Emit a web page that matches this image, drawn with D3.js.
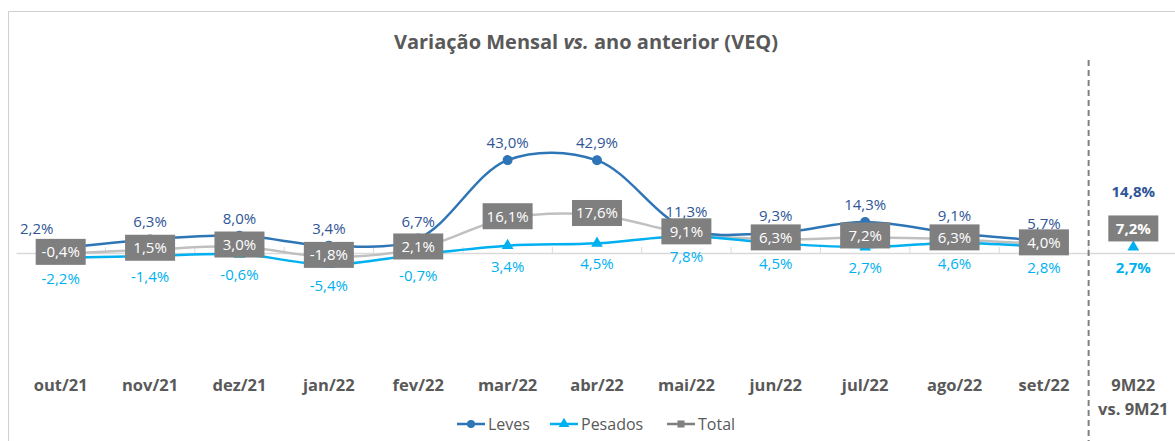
<!DOCTYPE html>
<html>
<head>
<meta charset="utf-8">
<script src="https://cdn.jsdelivr.net/npm/d3@7"></script>
<style>
  body { margin: 0; background: #fff; }
  svg { font-family: "Open Sans", sans-serif; }
</style>
</head>
<body>
<div id="chart"></div>
<script>
// Categories and values (%)
var months = ["out/21", "nov/21", "dez/21", "jan/22", "fev/22", "mar/22", "abr/22",
              "mai/22", "jun/22", "jul/22", "ago/22", "set/22"];
var ytdLabel = ["9M22", "vs. 9M21"];
var leves   = [2.2, 6.3, 8.0, 3.4, 6.7, 43.0, 42.9, 11.3, 9.3, 14.3, 9.1, 5.7];
var pesados = [-2.2, -1.4, -0.6, -5.4, -0.7, 3.4, 4.5, 7.8, 4.5, 2.7, 4.6, 2.8];
var total   = [-0.4, 1.5, 3.0, -1.8, 2.1, 16.1, 17.6, 9.1, 6.3, 7.2, 6.3, 4.0];
var ytdLeves = 14.8, ytdPesados = 2.7, ytdTotal = 7.2;
var yDomain = [-50, 50];

function init() {
    var w = 1175, h = 441;
    var cLeves = "#2E75B6", cLevesTxt = "#2F5597", cPesados = "#00B0F0",
        cTotalLine = "#C0C0C0", cTotalBox = "#7F7F7F", cText = "#595959";

    var svg = d3.select("#chart").append("svg")
        .attr("width", w).attr("height", h);

    // chart border
    svg.append("path")
        .attr("d", "M8.5," + h + "V11.5H" + w)
        .attr("fill", "none").attr("stroke", "#D0D0D0");

    var cats = months.concat(["9M"]);
    var x = d3.scaleBand().domain(cats).range([16, 1178]);
    var cx = function(i) { return x(cats[i]) + x.bandwidth() / 2; };
    var y = d3.scaleLinear().domain(yDomain).range([361, 145]);

    // title
    var title = svg.append("text")
        .attr("x", 586).attr("y", 49)
        .attr("text-anchor", "middle")
        .attr("fill", cText).attr("font-weight", "bold").attr("font-size", 20);
    title.append("tspan").text("Variação Mensal ");
    title.append("tspan").attr("font-style", "italic").text("vs.");
    title.append("tspan").text(" ano anterior (VEQ)");

    // zero axis with ticks between categories
    var xAxis = d3.axisBottom(x).tickSize(0).tickFormat("");
    var gAxis = svg.append("g")
        .attr("transform", "translate(0," + y(0) + ")")
        .call(xAxis);
    gAxis.select(".domain").attr("stroke", "#D9D9D9").attr("stroke-width", 1.3);
    gAxis.selectAll(".tick").remove();
    gAxis.selectAll(".sep")
        .data(d3.range(1, cats.length))
        .enter().append("line")
        .attr("x1", function(i) { return x(cats[i]); })
        .attr("x2", function(i) { return x(cats[i]); })
        .attr("y1", -6).attr("y2", 0)
        .attr("stroke", "#D9D9D9");

    // dashed separator before the YTD column
    svg.append("line")
        .attr("x1", x("9M")).attr("x2", x("9M"))
        .attr("y1", 60).attr("y2", h)
        .attr("stroke", "#7F7F7F").attr("stroke-width", 2)
        .attr("stroke-dasharray", "6,4");

    // category labels
    svg.selectAll(".xlab")
        .data(months).enter().append("text")
        .attr("x", function(d, i) { return cx(i); })
        .attr("y", 391)
        .attr("text-anchor", "middle")
        .attr("fill", cText).attr("font-weight", "bold").attr("font-size", 16.5)
        .text(function(d) { return d; });
    svg.selectAll(".ytdlab")
        .data(ytdLabel).enter().append("text")
        .attr("x", cx(12))
        .attr("y", function(d, i) { return 391 + i * 24; })
        .attr("text-anchor", "middle")
        .attr("fill", cText).attr("font-weight", "bold").attr("font-size", 16.5)
        .text(function(d) { return d; });

    var line = d3.line()
        .x(function(d, i) { return cx(i); })
        .y(function(d) { return y(d); })
        .curve(d3.curveCatmullRom.alpha(0.5));

    var fmt = function(v) { return v.toFixed(1).replace(".", ",") + "%"; };

    // Total line (behind)
    svg.append("path").datum(total)
        .attr("d", line).attr("fill", "none")
        .attr("stroke", cTotalLine).attr("stroke-width", 2.5);

    // Pesados line
    svg.append("path").datum(pesados)
        .attr("d", line).attr("fill", "none")
        .attr("stroke", cPesados).attr("stroke-width", 2.5);

    // Leves line
    svg.append("path").datum(leves)
        .attr("d", line).attr("fill", "none")
        .attr("stroke", cLeves).attr("stroke-width", 2.5);

    var pesAll = pesados.concat([ytdPesados]);
    var levAll = leves.concat([ytdLeves]);
    var totAll = total.concat([ytdTotal]);

    // markers
    var tri = d3.symbol().type(d3.symbolTriangle).size(60);
    svg.selectAll(".pm").data(pesAll).enter().append("path")
        .attr("d", tri)
        .attr("transform", function(d, i) { return "translate(" + cx(i) + "," + y(d) + ")"; })
        .attr("fill", cPesados);
    svg.selectAll(".lm").data(leves).enter().append("circle")
        .attr("cx", function(d, i) { return cx(i); })
        .attr("cy", function(d) { return y(d); })
        .attr("r", 5).attr("fill", cLeves);

    // Leves labels (above)
    svg.selectAll(".ll").data(levAll).enter().append("text")
        .attr("x", function(d, i) { return cx(i) + (i === 0 ? -24 : 0); })
        .attr("y", function(d, i) { return y(d) - (i === 12 ? 24 : i === 0 ? 14 : 12); })
        .attr("text-anchor", "middle")
        .attr("fill", cLevesTxt).attr("font-size", 15)
        .attr("font-weight", function(d, i) { return i === 12 ? "bold" : "normal"; })
        .text(fmt);

    // Pesados labels (below)
    svg.selectAll(".pl").data(pesAll).enter().append("text")
        .attr("x", function(d, i) { return cx(i); })
        .attr("y", function(d, i) { return y(d) + 26; })
        .attr("text-anchor", "middle")
        .attr("fill", cPesados).attr("font-size", 15)
        .attr("font-weight", function(d, i) { return i === 12 ? "bold" : "normal"; })
        .text(fmt);

    // Total labels as grey boxes
    var tg = svg.selectAll(".tl").data(totAll).enter().append("g")
        .attr("transform", function(d, i) {
            return "translate(" + cx(i) + "," + (y(d) - (i === 12 ? 9 : 2)) + ")";
        });
    tg.append("rect")
        .attr("x", -25).attr("y", -13)
        .attr("width", 50).attr("height", 26)
        .attr("fill", cTotalBox);
    tg.append("text")
        .attr("y", 5.5)
        .attr("text-anchor", "middle")
        .attr("fill", "#fff").attr("font-size", 15)
        .attr("font-weight", function(d, i) { return i === 12 ? "bold" : "normal"; })
        .text(fmt);

    // legend
    var legend = [
        { name: "Leves", color: cLeves, x: 457, shape: "circle" },
        { name: "Pesados", color: cPesados, x: 550, shape: "triangle" },
        { name: "Total", color: cTotalBox, x: 667, shape: "square" }
    ];
    var lg = svg.selectAll(".leg").data(legend).enter().append("g")
        .attr("transform", function(d) { return "translate(" + d.x + ",424)"; });
    lg.append("line")
        .attr("x1", 0).attr("x2", 28)
        .attr("stroke", function(d) { return d.color; }).attr("stroke-width", 2.5);
    lg.append("path")
        .attr("transform", "translate(14,0)")
        .attr("d", function(d) {
            var t = d.shape === "circle" ? d3.symbolCircle
                  : d.shape === "triangle" ? d3.symbolTriangle : d3.symbolSquare;
            return d3.symbol().type(t).size(50)();
        })
        .attr("fill", function(d) { return d.color; });
    lg.append("text")
        .attr("x", 31).attr("y", 6)
        .attr("fill", cText).attr("font-size", 16)
        .text(function(d) { return d.name; });
}

window.onload = init;
</script>
</body>
</html>
